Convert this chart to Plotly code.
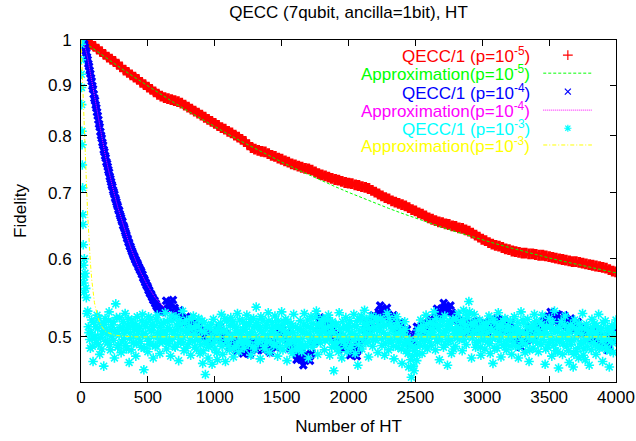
import plotly.graph_objects as go

# ---------------- text ----------------
title_text = "QECC (7qubit, ancilla=1bit), HT"
x_label = "Number of HT"
y_label = "Fidelity"
legend_names = [
    "QECC/1 (p=10<sup>-5</sup>)",
    "Approximation(p=10<sup>-5</sup>)",
    "QECC/1 (p=10<sup>-4</sup>)",
    "Approximation(p=10<sup>-4</sup>)",
    "QECC/1 (p=10<sup>-3</sup>)",
    "Approximation(p=10<sup>-3</sup>)",
]
colors = ["#ff0000", "#00ff00", "#0000ff", "#ff00ff", "#00ffff", "#ffff00"]

x_ticks = [0, 500, 1000, 1500, 2000, 2500, 3000, 3500, 4000]
y_ticks = [0.5, 0.6, 0.7, 0.8, 0.9, 1.0]
y_tick_text = ["0.5", "0.6", "0.7", "0.8", "0.9", "1"]

# ---------------- data ----------------
# QECC/1 p=1e-5 (red), every 25 HT from 0 to 4000
red_x = list(range(0, 4001, 25))
red_vals = [
    1.000, 0.997, 0.994, 0.990, 0.985, 0.979, 0.973, 0.967, 0.961, 0.956,
    0.951, 0.945, 0.939, 0.932, 0.927, 0.922, 0.917, 0.912, 0.906, 0.901,
    0.896, 0.891, 0.886, 0.881, 0.877, 0.874, 0.872, 0.870, 0.868, 0.866,
    0.863, 0.859, 0.855, 0.851, 0.847, 0.843, 0.839, 0.835, 0.831, 0.827,
    0.823, 0.819, 0.815, 0.812, 0.808, 0.805, 0.801, 0.797, 0.793, 0.789,
    0.783, 0.778, 0.775, 0.773, 0.771, 0.770, 0.767, 0.764, 0.762, 0.759,
    0.757, 0.754, 0.752, 0.749, 0.747, 0.745, 0.743, 0.741, 0.740, 0.738,
    0.735, 0.732, 0.730, 0.728, 0.726, 0.724, 0.722, 0.721, 0.719, 0.717,
    0.716, 0.715, 0.713, 0.712, 0.710, 0.709, 0.707, 0.704, 0.701, 0.698,
    0.695, 0.692, 0.690, 0.687, 0.685, 0.683, 0.681, 0.679, 0.676, 0.673,
    0.671, 0.668, 0.666, 0.663, 0.660, 0.658, 0.656, 0.654, 0.653, 0.651,
    0.650, 0.648, 0.647, 0.645, 0.644, 0.642, 0.640, 0.637, 0.634, 0.631,
    0.628, 0.626, 0.623, 0.621, 0.619, 0.618, 0.616, 0.614, 0.613, 0.611,
    0.610, 0.609, 0.608, 0.608, 0.607, 0.607, 0.606, 0.605, 0.605, 0.604,
    0.603, 0.602, 0.601, 0.600, 0.599, 0.598, 0.597, 0.596, 0.596, 0.595,
    0.594, 0.593, 0.592, 0.591, 0.590, 0.589, 0.588, 0.587, 0.585, 0.583,
    0.582,
]

# Approximation p=1e-5 (green)
green_x = list(range(0, 4001, 100))
green_vals = [
    1.000, 0.9777, 0.9564, 0.9360, 0.9165, 0.8980, 0.8802, 0.8632, 0.8470, 0.8315,
    0.8167, 0.8026, 0.7891, 0.7762, 0.7639, 0.7521, 0.7409, 0.7301, 0.7199, 0.7101,
    0.7007, 0.6917, 0.6832, 0.6750, 0.6672, 0.6597, 0.6526, 0.6458, 0.6393, 0.6331,
    0.6272, 0.6215, 0.6161, 0.6109, 0.6059, 0.6012, 0.5967, 0.5924, 0.5883, 0.5843,
    0.5806,
]

# QECC/1 p=1e-4 (blue): every 5 HT during the decay (0..600), then two
# interleaved lists in the noisy tail
blue_decay_x = list(range(0, 601, 5))
blue_decay_vals = [
    1.000, 0.999, 0.998, 0.997, 0.996, 0.990, 0.983, 0.975, 0.970, 0.961,
    0.955, 0.946, 0.940, 0.931, 0.924, 0.915, 0.908, 0.898, 0.892, 0.881,
    0.873, 0.868, 0.859, 0.853, 0.845, 0.838, 0.830, 0.822, 0.816, 0.807,
    0.800, 0.795, 0.787, 0.782, 0.774, 0.770, 0.763, 0.759, 0.752, 0.749,
    0.744, 0.738, 0.734, 0.727, 0.723, 0.718, 0.713, 0.710, 0.704, 0.701,
    0.697, 0.692, 0.689, 0.685, 0.681, 0.678, 0.673, 0.671, 0.666, 0.663,
    0.660, 0.656, 0.654, 0.649, 0.647, 0.644, 0.640, 0.637, 0.634, 0.630,
    0.628, 0.624, 0.622, 0.618, 0.617, 0.614, 0.611, 0.609, 0.606, 0.604,
    0.602, 0.599, 0.598, 0.595, 0.594, 0.592, 0.589, 0.588, 0.585, 0.584,
    0.582, 0.579, 0.578, 0.574, 0.573, 0.571, 0.568, 0.567, 0.564, 0.563,
    0.561, 0.558, 0.557, 0.554, 0.553, 0.552, 0.549, 0.548, 0.545, 0.545,
    0.544, 0.541, 0.540, 0.537, 0.537, 0.535, 0.533, 0.532, 0.530, 0.531,
    0.530,
]
blue_tail_x = list(range(625, 4001, 25))
blue_tail_vals = [
    0.533, 0.540, 0.541, 0.535, 0.528,
    0.524, 0.520, 0.516, 0.513, 0.511, 0.509, 0.507, 0.503, 0.500, 0.498,
    0.502, 0.508, 0.505, 0.499, 0.495, 0.492, 0.490, 0.489, 0.488, 0.486,
    0.485, 0.487, 0.490, 0.491, 0.491, 0.490, 0.489, 0.488, 0.489, 0.500,
    0.508, 0.502, 0.496, 0.490, 0.483, 0.478, 0.475, 0.474, 0.477, 0.481,
    0.495, 0.512, 0.521, 0.517, 0.512, 0.506, 0.500, 0.498, 0.494, 0.490,
    0.486, 0.484, 0.483, 0.486, 0.497, 0.508, 0.514, 0.517, 0.524, 0.530,
    0.533, 0.531, 0.526, 0.522, 0.518, 0.513, 0.510, 0.506, 0.500, 0.494,
    0.503, 0.510, 0.512, 0.511, 0.513, 0.517, 0.524, 0.530, 0.534, 0.535,
    0.533, 0.529, 0.524, 0.519, 0.515, 0.512, 0.511, 0.512, 0.512, 0.514,
    0.513, 0.510, 0.512, 0.516, 0.517, 0.515, 0.514, 0.514, 0.513, 0.508,
    0.500, 0.495, 0.494, 0.499, 0.505, 0.507, 0.508, 0.512, 0.516, 0.520,
    0.523, 0.524, 0.522, 0.520, 0.521, 0.519, 0.517, 0.515, 0.513, 0.511,
    0.508, 0.505, 0.503, 0.502, 0.500, 0.499, 0.497, 0.493, 0.489, 0.496,
    0.510,
]
blue_tail2_x = list(range(637, 4001, 25))
blue_tail2_vals = [
    0.544, 0.534, 0.545, 0.525, 0.532, 0.516, 0.524, 0.509, 0.518, 0.504,
    0.514, 0.499, 0.507, 0.493, 0.506, 0.499, 0.512, 0.496, 0.503, 0.488,
    0.497, 0.484, 0.494, 0.481, 0.491, 0.480, 0.494, 0.485, 0.497, 0.485,
    0.495, 0.482, 0.494, 0.488, 0.510, 0.499, 0.505, 0.487, 0.492, 0.474,
    0.482, 0.468, 0.481, 0.473, 0.494, 0.497, 0.523, 0.513, 0.520, 0.503,
    0.509, 0.493, 0.502, 0.486, 0.494, 0.479, 0.489, 0.478, 0.497, 0.496,
    0.517, 0.509, 0.526, 0.521, 0.538, 0.526, 0.535, 0.518, 0.526, 0.509,
    0.517, 0.502, 0.509, 0.491, 0.493, 0.512, 0.505, 0.517, 0.506, 0.521,
    0.514, 0.534, 0.526, 0.541, 0.529, 0.538, 0.520, 0.527, 0.511, 0.519,
    0.505, 0.517, 0.506, 0.519, 0.507, 0.517, 0.505, 0.520, 0.510, 0.522,
    0.508, 0.520, 0.507, 0.516, 0.498, 0.503, 0.488, 0.502, 0.496, 0.512,
    0.501, 0.516, 0.508, 0.524, 0.515, 0.530, 0.517, 0.527, 0.514, 0.526,
    0.512, 0.522, 0.508, 0.518, 0.503, 0.512, 0.498, 0.508, 0.495, 0.505,
    0.492, 0.501, 0.485, 0.498, 0.497,
]

# Approximation p=1e-4 (magenta)
magenta_x = [0, 25, 50, 75, 100, 125, 150, 175, 200, 225, 250, 275, 300, 325,
             350, 375, 400, 425, 450, 475, 500, 525, 550, 575, 600, 625, 650,
             675, 700, 750, 800, 850, 900, 1000, 1200, 1500, 2000, 3000, 4000]
magenta_vals = [1.000, 0.990, 0.958, 0.917, 0.876, 0.838, 0.803, 0.772, 0.744,
                0.719, 0.697, 0.677, 0.659, 0.643, 0.628, 0.614, 0.601, 0.590,
                0.580, 0.571, 0.563, 0.556, 0.549, 0.544, 0.539, 0.535, 0.531,
                0.527, 0.524, 0.519, 0.515, 0.512, 0.510, 0.506, 0.503, 0.501,
                0.500, 0.500, 0.500]

# QECC/1 p=1e-3 (cyan): first steps, then every 5 HT (two interleaved lists)
cyan_early_x = [0, 1, 2, 3, 4, 5, 7, 8, 10, 12, 14, 15, 17, 19, 21, 23, 25, 27]
cyan_early_vals = [1.000, 0.990, 0.955, 0.923, 0.895, 0.860, 0.808, 0.783, 0.747,
                   0.708, 0.665, 0.650, 0.620, 0.591, 0.567, 0.555, 0.600, 0.575]
cyan_cloud_x = list(range(30, 4001, 10))
cyan_cloud_vals = [
    0.580, 0.548, 0.531, 0.505, 0.487, 0.520, 0.472, 0.498, 0.512, 0.526, 0.491, 0.480, 0.515, 0.503, 0.467, 0.522, 0.509, 0.494, 0.530, 0.485,
    0.501, 0.518, 0.476, 0.540, 0.507, 0.490, 0.523, 0.482, 0.511, 0.497, 0.528, 0.486, 0.514, 0.471, 0.505, 0.520, 0.493, 0.509, 0.478, 0.524,
    0.499, 0.512, 0.488, 0.527, 0.463, 0.504, 0.517, 0.483, 0.495, 0.521, 0.508, 0.476, 0.513, 0.490, 0.526, 0.500, 0.481, 0.516, 0.494, 0.507,
    0.529, 0.486, 0.511, 0.497, 0.478, 0.519, 0.503, 0.489, 0.524, 0.508, 0.473, 0.515, 0.495, 0.531, 0.484, 0.506, 0.520, 0.491, 0.510, 0.479,
    0.502, 0.525, 0.488, 0.513, 0.496, 0.522, 0.481, 0.507, 0.470, 0.517, 0.458, 0.492, 0.476, 0.511, 0.499, 0.469, 0.521, 0.486, 0.505, 0.474,
    0.514, 0.493, 0.527, 0.480, 0.508, 0.472, 0.519, 0.496, 0.485, 0.523, 0.501, 0.477, 0.512, 0.490, 0.528, 0.483, 0.506, 0.495, 0.518, 0.487,
    0.509, 0.526, 0.491, 0.515, 0.479, 0.503, 0.522, 0.486, 0.536, 0.498, 0.513, 0.475, 0.507, 0.520, 0.489, 0.511, 0.494, 0.529, 0.482, 0.504,
    0.517, 0.490, 0.525, 0.501, 0.478, 0.512, 0.496, 0.530, 0.485, 0.508, 0.521, 0.473, 0.504, 0.492, 0.516, 0.481, 0.527, 0.499, 0.487, 0.510,
    0.495, 0.519, 0.483, 0.506, 0.528, 0.490, 0.513, 0.476, 0.502, 0.524, 0.488, 0.509, 0.497, 0.531, 0.480, 0.515, 0.493, 0.507, 0.522, 0.485,
    0.511, 0.498, 0.526, 0.479, 0.505, 0.518, 0.462, 0.492, 0.514, 0.487, 0.529, 0.501, 0.476, 0.510, 0.495, 0.523, 0.483, 0.508, 0.519, 0.490,
    0.504, 0.527, 0.481, 0.512, 0.468, 0.498, 0.521, 0.486, 0.509, 0.532, 0.493, 0.515, 0.477, 0.503, 0.525, 0.489, 0.511, 0.496, 0.519, 0.482,
    0.507, 0.522, 0.490, 0.513, 0.479, 0.500, 0.528, 0.485, 0.516, 0.494, 0.510, 0.475, 0.503, 0.524, 0.488, 0.512, 0.497, 0.470, 0.506, 0.518,
    0.484, 0.499, 0.466, 0.491, 0.455, 0.478, 0.462, 0.487, 0.473, 0.508, 0.492, 0.520, 0.481, 0.511, 0.496, 0.526, 0.486, 0.504, 0.517, 0.490,
    0.509, 0.530, 0.485, 0.513, 0.498, 0.474, 0.519, 0.502, 0.488, 0.525, 0.507, 0.468, 0.495, 0.515, 0.481, 0.521, 0.500, 0.489, 0.512, 0.528,
    0.497, 0.517, 0.484, 0.532, 0.506, 0.491, 0.523, 0.543, 0.501, 0.476, 0.514, 0.527, 0.488, 0.509, 0.495, 0.520, 0.479, 0.503, 0.516, 0.486,
    0.512, 0.494, 0.525, 0.481, 0.507, 0.470, 0.518, 0.499, 0.487, 0.529, 0.503, 0.477, 0.514, 0.491, 0.522, 0.485, 0.508, 0.496, 0.519, 0.480,
    0.501, 0.524, 0.489, 0.511, 0.476, 0.506, 0.530, 0.493, 0.516, 0.482, 0.504, 0.521, 0.472, 0.498, 0.513, 0.487, 0.527, 0.495, 0.509, 0.483,
    0.517, 0.491, 0.526, 0.503, 0.469, 0.512, 0.488, 0.522, 0.497, 0.478, 0.509, 0.531, 0.484, 0.506, 0.465, 0.494, 0.518, 0.480, 0.502, 0.525,
    0.489, 0.508, 0.471, 0.514, 0.496, 0.466, 0.520, 0.483, 0.505, 0.476, 0.511, 0.492, 0.528, 0.486, 0.474, 0.515, 0.499, 0.468, 0.507, 0.521,
    0.493, 0.516, 0.480, 0.504, 0.527, 0.488, 0.510, 0.472, 0.498, 0.519, 0.485, 0.507, 0.466, 0.495, 0.513, 0.482, 0.501, 0.520,
]
cyan_cloud2_x = list(range(35, 3996, 10))
cyan_cloud2_vals = [
    0.560, 0.528, 0.512, 0.497, 0.505, 0.489, 0.517, 0.501, 0.493, 0.510, 0.522, 0.499, 0.486, 0.507, 0.515, 0.495, 0.503, 0.519, 0.491, 0.508,
    0.514, 0.496, 0.506, 0.523, 0.488, 0.502, 0.511, 0.494, 0.518, 0.504, 0.490, 0.509, 0.521, 0.498, 0.485, 0.513, 0.500, 0.516, 0.492, 0.506,
    0.510, 0.495, 0.519, 0.503, 0.487, 0.512, 0.498, 0.524, 0.491, 0.507, 0.515, 0.500, 0.489, 0.520, 0.505, 0.494, 0.511, 0.502, 0.517, 0.496,
    0.503, 0.518, 0.492, 0.509, 0.525, 0.497, 0.506, 0.488, 0.514, 0.501, 0.520, 0.493, 0.508, 0.499, 0.516, 0.487, 0.504, 0.512, 0.496, 0.521,
    0.495, 0.510, 0.503, 0.486, 0.513, 0.499, 0.491, 0.519, 0.484, 0.505, 0.494, 0.512, 0.488, 0.500, 0.515, 0.492, 0.507, 0.497, 0.482, 0.509,
    0.500, 0.516, 0.489, 0.507, 0.522, 0.496, 0.504, 0.490, 0.513, 0.498, 0.518, 0.487, 0.505, 0.511, 0.494, 0.520, 0.501, 0.492, 0.509, 0.497,
    0.515, 0.502, 0.494, 0.521, 0.506, 0.489, 0.512, 0.500, 0.517, 0.493, 0.508, 0.524, 0.497, 0.504, 0.486, 0.514, 0.501, 0.519, 0.495, 0.510,
    0.506, 0.492, 0.513, 0.500, 0.519, 0.488, 0.509, 0.497, 0.515, 0.503, 0.490, 0.518, 0.496, 0.511, 0.484, 0.505, 0.494, 0.512, 0.499, 0.486,
    0.491, 0.507, 0.498, 0.514, 0.489, 0.503, 0.520, 0.495, 0.510, 0.499, 0.516, 0.492, 0.524, 0.506, 0.497, 0.513, 0.502, 0.518, 0.509, 0.496,
    0.504, 0.520, 0.497, 0.512, 0.488, 0.506, 0.493, 0.515, 0.500, 0.483, 0.509, 0.495, 0.518, 0.502, 0.490, 0.511, 0.498, 0.514, 0.487, 0.503,
    0.496, 0.513, 0.501, 0.519, 0.491, 0.507, 0.525, 0.499, 0.515, 0.504, 0.521, 0.494, 0.510, 0.502, 0.517, 0.497, 0.508, 0.523, 0.500, 0.514,
    0.511, 0.498, 0.519, 0.505, 0.492, 0.514, 0.501, 0.522, 0.496, 0.508, 0.489, 0.512, 0.499, 0.517, 0.494, 0.506, 0.486, 0.503, 0.491, 0.509,
    0.493, 0.481, 0.496, 0.474, 0.488, 0.467, 0.484, 0.497, 0.480, 0.502, 0.490, 0.511, 0.498, 0.507, 0.489, 0.515, 0.501, 0.494, 0.510, 0.503,
    0.516, 0.500, 0.522, 0.494, 0.508, 0.513, 0.497, 0.519, 0.505, 0.491, 0.512, 0.500, 0.518, 0.496, 0.509, 0.486, 0.504, 0.521, 0.499, 0.507,
    0.510, 0.503, 0.520, 0.497, 0.514, 0.526, 0.508, 0.530, 0.515, 0.499, 0.506, 0.518, 0.493, 0.511, 0.502, 0.488, 0.509, 0.496, 0.513, 0.500,
    0.505, 0.517, 0.492, 0.510, 0.498, 0.521, 0.487, 0.506, 0.514, 0.495, 0.511, 0.500, 0.519, 0.490, 0.507, 0.497, 0.513, 0.502, 0.489, 0.508,
    0.494, 0.510, 0.501, 0.517, 0.488, 0.505, 0.496, 0.520, 0.503, 0.491, 0.512, 0.499, 0.485, 0.508, 0.497, 0.514, 0.502, 0.519, 0.493, 0.506,
    0.502, 0.515, 0.497, 0.509, 0.486, 0.504, 0.493, 0.512, 0.500, 0.518, 0.490, 0.507, 0.496, 0.483, 0.511, 0.499, 0.505, 0.492, 0.514, 0.501,
    0.497, 0.484, 0.505, 0.491, 0.512, 0.480, 0.499, 0.508, 0.487, 0.516, 0.494, 0.503, 0.479, 0.510, 0.496, 0.489, 0.507, 0.500, 0.485, 0.511,
    0.504, 0.491, 0.513, 0.499, 0.487, 0.508, 0.495, 0.517, 0.502, 0.489, 0.510, 0.497, 0.484, 0.506, 0.493, 0.512, 0.500,
]

# Approximation p=1e-3 (yellow)
yellow_x = [0, 10, 20, 30, 40, 50, 60, 70, 80, 90, 100, 120, 140, 160, 180,
            200, 250, 300, 400, 4000]
yellow_vals = [1.000, 0.930, 0.860, 0.790, 0.720, 0.665, 0.625, 0.595, 0.572,
               0.555, 0.542, 0.527, 0.517, 0.511, 0.507, 0.505, 0.502, 0.501,
               0.500, 0.500]

assert len(red_x) == len(red_vals)
assert len(blue_decay_x) == len(blue_decay_vals)
assert len(blue_tail_x) == len(blue_tail_vals)
assert len(blue_tail2_x) == len(blue_tail2_vals), (len(blue_tail2_x), len(blue_tail2_vals))
assert len(green_x) == len(green_vals)
assert len(magenta_x) == len(magenta_vals)
assert len(cyan_cloud_x) == len(cyan_cloud_vals)
assert len(cyan_cloud2_x) == len(cyan_cloud2_vals)
assert len(cyan_early_x) == len(cyan_early_vals)
assert len(yellow_x) == len(yellow_vals)

blue_x = blue_decay_x + blue_tail_x + blue_tail2_x
blue_vals = blue_decay_vals + blue_tail_vals + blue_tail2_vals
cyan_x = cyan_early_x + cyan_cloud_x + cyan_cloud2_x
cyan_vals = cyan_early_vals + cyan_cloud_vals + cyan_cloud2_vals

FONT = "Liberation Sans, Arial, Helvetica, sans-serif"
FS = 17

fig = go.Figure()

fig.add_trace(go.Scatter(x=red_x, y=red_vals, mode="markers", showlegend=False,
                         marker=dict(symbol="cross", size=9, color=colors[0],
                                     line=dict(width=0))))
fig.add_trace(go.Scatter(x=green_x, y=green_vals, mode="lines", showlegend=False,
                         line=dict(color=colors[1], width=1, dash="3px,2px")))
fig.add_trace(go.Scatter(x=blue_x, y=blue_vals, mode="markers", showlegend=False,
                         marker=dict(symbol="x", size=8, color=colors[2],
                                     line=dict(width=0))))
fig.add_trace(go.Scatter(x=magenta_x, y=magenta_vals, mode="lines", showlegend=False,
                         line=dict(color=colors[3], width=1, dash="1px,1px")))
fig.add_trace(go.Scatter(x=cyan_x, y=cyan_vals, mode="markers", showlegend=False,
                         marker=dict(symbol="asterisk", size=8, color=colors[4],
                                     line=dict(color=colors[4], width=1.6))))
fig.add_trace(go.Scatter(x=yellow_x, y=yellow_vals, mode="lines", showlegend=False,
                         line=dict(color=colors[5], width=1, dash="4px,2px,1px,2px")))

# ---------------- gnuplot-style key (text right, sample on the right) ----------------
key_text_x = 0.842
key_rows_y = [0.956, 0.903, 0.849, 0.795, 0.742, 0.693]
key_marker_x = 0.91
key_line_x = [0.864, 0.955]
marker_styles = [("cross-thin", 7), None, ("x-thin", 6), None, ("asterisk", 6), None]
line_dashes = [None, "3px,2px", None, "1px,1px", None, "4px,2px,1px,2px"]

for i, name in enumerate(legend_names):
    fig.add_annotation(x=key_text_x, y=key_rows_y[i], xref="paper", yref="paper",
                       text=name, showarrow=False, xanchor="right", yanchor="middle",
                       borderpad=0,
                       font=dict(family=FONT, size=FS, color=colors[i]))
    if marker_styles[i] is not None:
        sym, sz = marker_styles[i]
        fig.add_trace(go.Scatter(x=[key_marker_x], y=[key_rows_y[i]], xaxis="x2", yaxis="y2",
                                 mode="markers", showlegend=False, hoverinfo="skip",
                                 marker=dict(symbol=sym, size=sz, color=colors[i],
                                             line=dict(color=colors[i], width=1.2))))
    else:
        fig.add_trace(go.Scatter(x=key_line_x, y=[key_rows_y[i]] * 2, xaxis="x2", yaxis="y2",
                                 mode="lines", showlegend=False, hoverinfo="skip",
                                 line=dict(color=colors[i], width=1, dash=line_dashes[i])))

fig.update_layout(
    width=636, height=441,
    margin=dict(l=81, r=20, t=40, b=59, autoexpand=False),
    paper_bgcolor="white", plot_bgcolor="white",
    font=dict(family=FONT, size=FS, color="black"),
    title=dict(text=title_text, x=0.5, xref="paper", xanchor="center",
               y=1 - 12 / 441, yref="container", yanchor="middle",
               font=dict(family=FONT, size=FS, color="black")),
    xaxis=dict(range=[0, 4000], tickvals=x_ticks, ticks="inside", ticklen=6,
               tickcolor="black", showline=True, linecolor="black", linewidth=1,
               mirror="ticks", showgrid=False, zeroline=False,
               title=dict(text=x_label, standoff=13, font=dict(size=FS)),
               tickfont=dict(size=FS), automargin=False),
    yaxis=dict(type="log", range=[-0.34679, 0.0], tickvals=y_ticks, ticktext=y_tick_text,
               ticks="inside", ticklen=6, tickcolor="black", showline=True,
               linecolor="black", linewidth=1, mirror="ticks", showgrid=False,
               zeroline=False, ticklabelstandoff=5,
               title=dict(text=y_label, standoff=17, font=dict(size=FS)),
               tickfont=dict(size=FS), automargin=False),
    xaxis2=dict(range=[0, 1], overlaying="x", visible=False, fixedrange=True),
    yaxis2=dict(range=[0, 1], overlaying="y", visible=False, fixedrange=True),
    showlegend=False,
)

fig.write_html("out.html", config={"displayModeBar": False},
               post_script="document.body.style.margin='0';")
